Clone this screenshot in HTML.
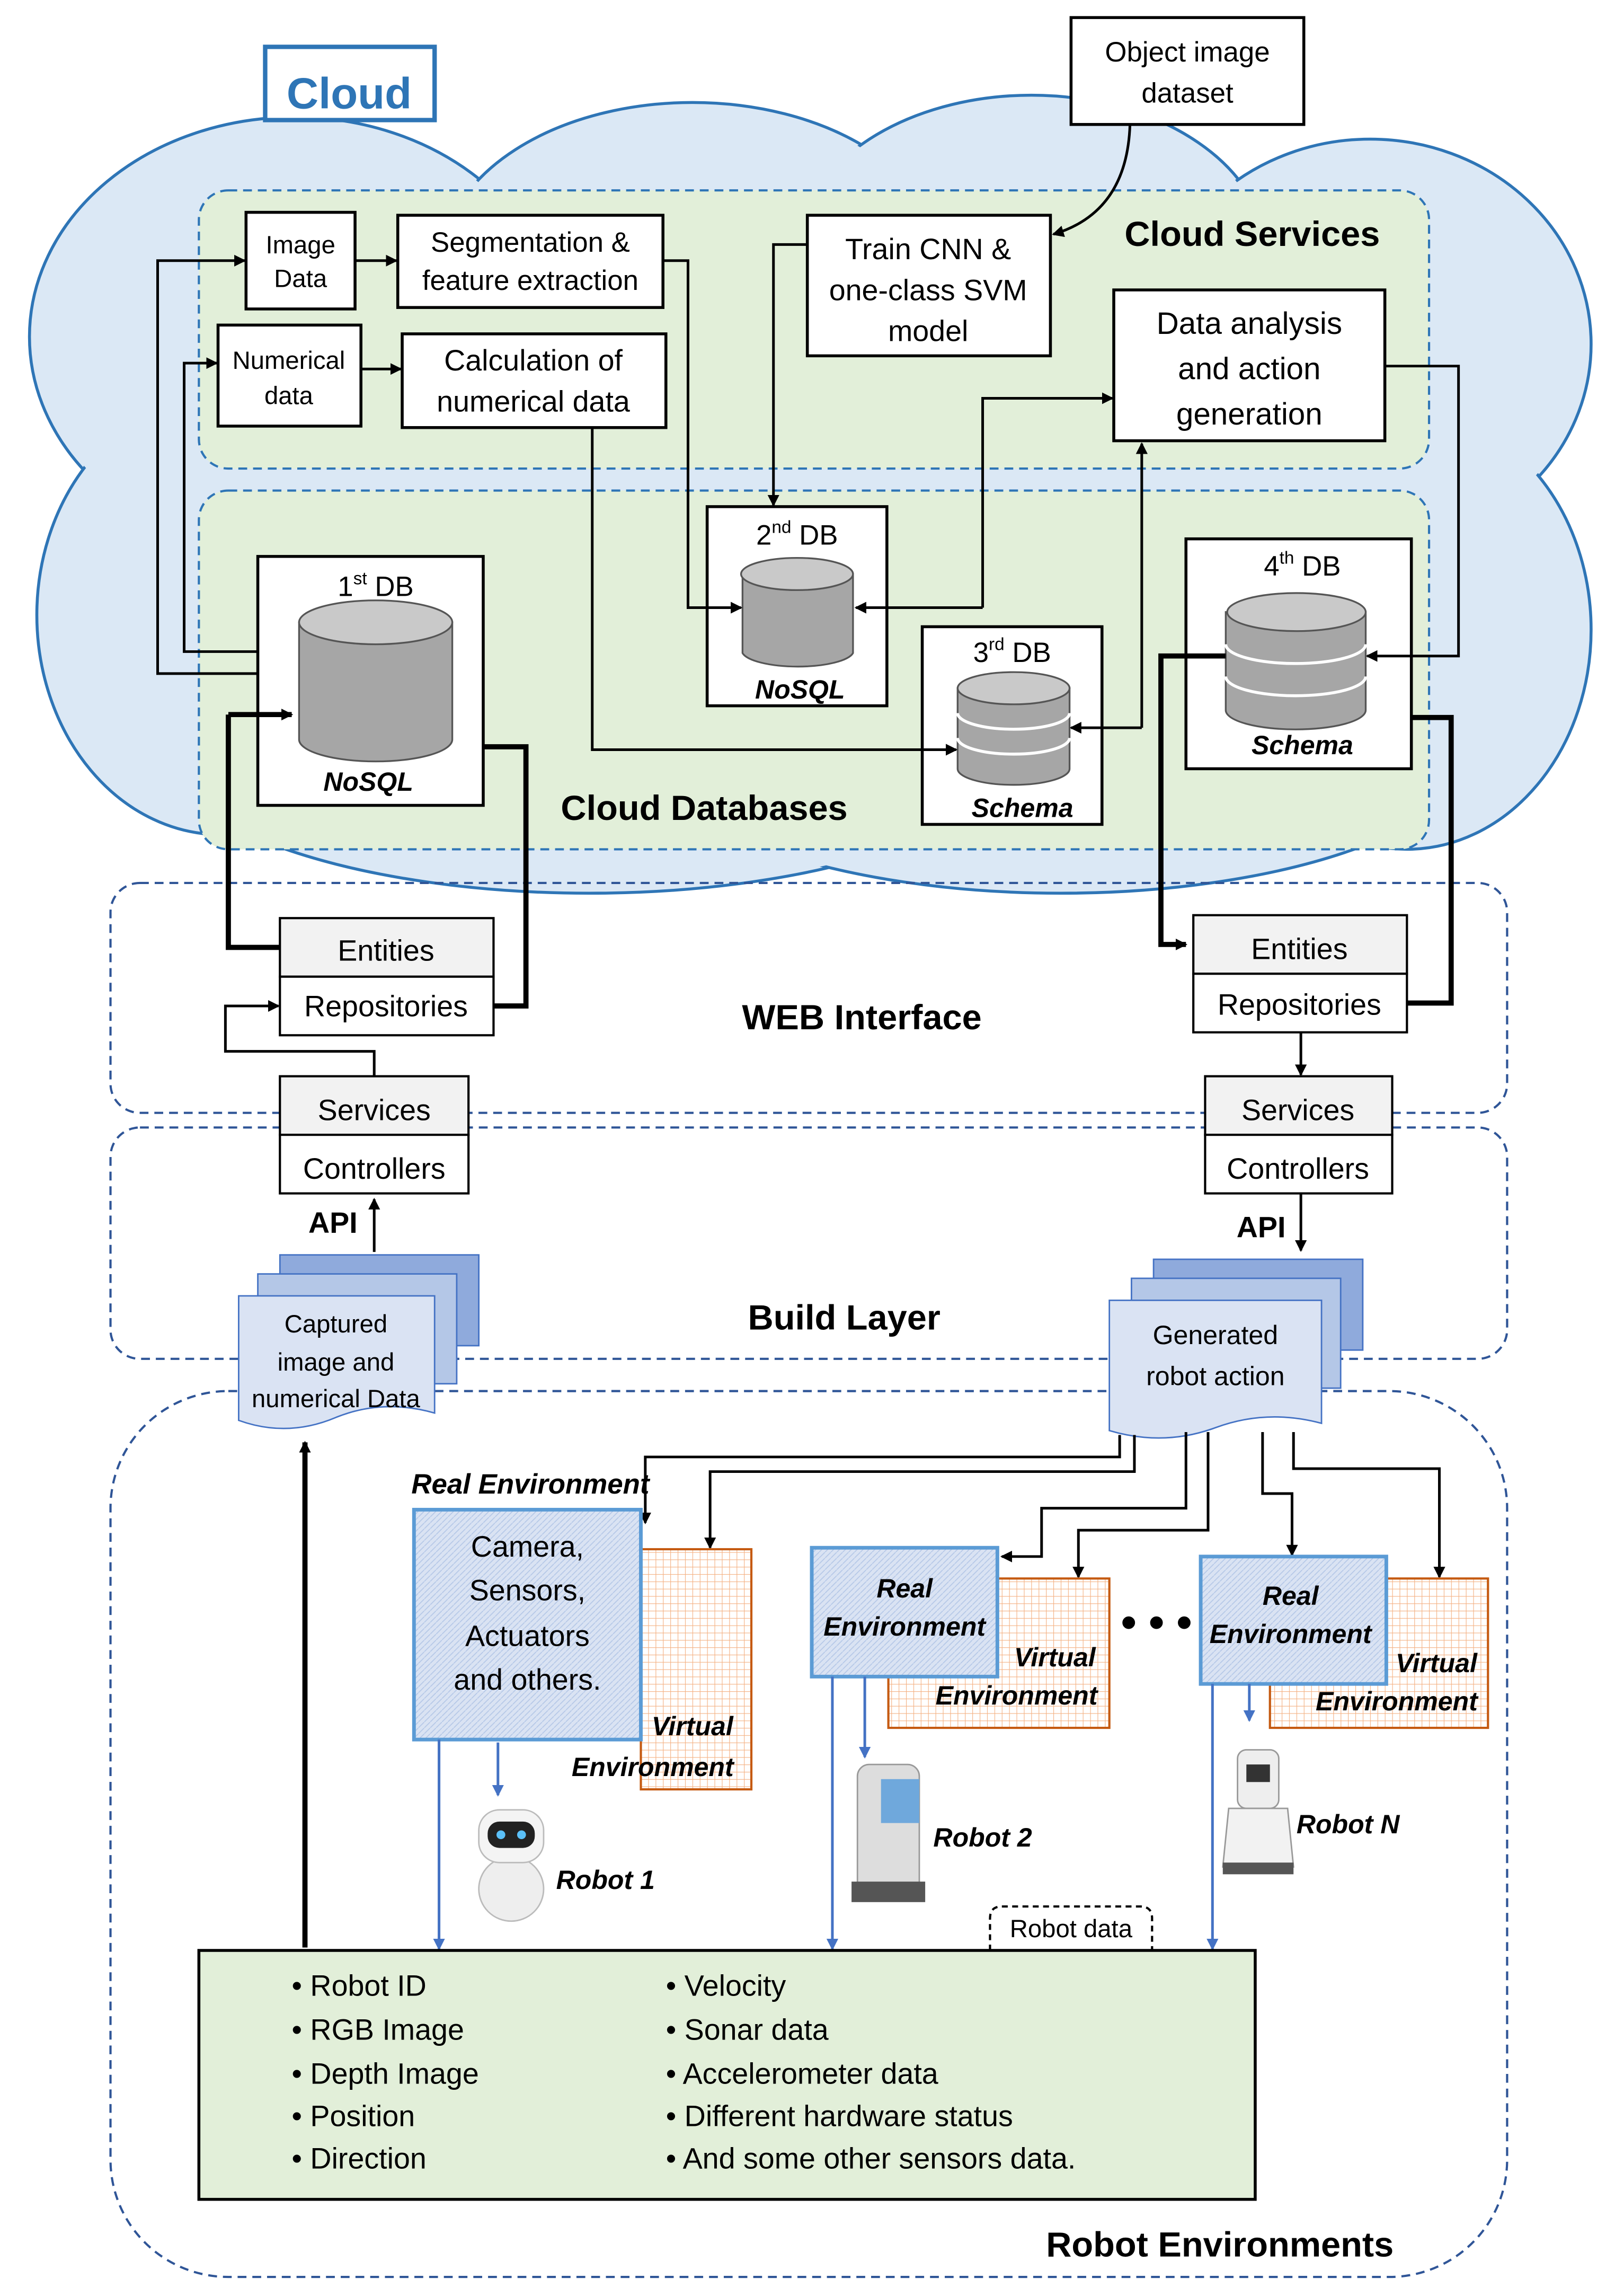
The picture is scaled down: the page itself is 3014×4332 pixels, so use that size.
<!DOCTYPE html>
<html><head><meta charset="utf-8"><style>html,body{margin:0;padding:0;background:#fff}svg{display:block}text{font-family:"Liberation Sans",sans-serif}</style></head><body>
<svg width="3014" height="4332" viewBox="0 0 1084 1568" preserveAspectRatio="none" xmlns="http://www.w3.org/2000/svg">
<defs>
<marker id="a" markerWidth="8" markerHeight="8" refX="7" refY="4" orient="auto" markerUnits="userSpaceOnUse"><path d="M0,0L8,4L0,8z" fill="#000"/></marker>
<marker id="b" markerWidth="8" markerHeight="8" refX="7" refY="4" orient="auto" markerUnits="userSpaceOnUse"><path d="M0,0L8,4L0,8z" fill="#4472c4"/></marker>
<pattern id="g" width="5" height="5" patternUnits="userSpaceOnUse"><rect width="5" height="5" fill="#fff"/><path d="M0,0H5M0,0V5" stroke="#f4b183" stroke-width="0.8"/></pattern>
<pattern id="h" width="4" height="4" patternUnits="userSpaceOnUse"><rect width="4" height="4" fill="#dae3f3"/><path d="M0,4L4,0" stroke="#b4c7e7" stroke-width="0.6"/></pattern>
</defs>
<!-- cloud -->
<g fill="#dbe8f5" stroke="#2e75b6" stroke-width="2">
<ellipse cx="200" cy="230" rx="180" ry="150"/><ellipse cx="470" cy="180" rx="170" ry="110"/><ellipse cx="700" cy="175" rx="160" ry="110"/><ellipse cx="930" cy="235" rx="150" ry="140"/><ellipse cx="150" cy="420" rx="125" ry="150"/><ellipse cx="955" cy="430" rx="125" ry="150"/><ellipse cx="400" cy="500" rx="300" ry="110"/><ellipse cx="720" cy="500" rx="290" ry="110"/>
</g>
<g fill="#dbe8f5"><ellipse cx="200" cy="230" rx="178" ry="148"/><ellipse cx="470" cy="180" rx="168" ry="108"/><ellipse cx="700" cy="175" rx="158" ry="108"/><ellipse cx="930" cy="235" rx="148" ry="138"/><ellipse cx="150" cy="420" rx="123" ry="148"/><ellipse cx="955" cy="430" rx="123" ry="148"/><ellipse cx="400" cy="500" rx="298" ry="108"/><ellipse cx="720" cy="500" rx="288" ry="108"/><ellipse cx="550" cy="380" rx="450" ry="200"/></g>
<rect x="180" y="32" width="115" height="50" fill="#fff" stroke="#2e75b6" stroke-width="3"/>
<text x="237" y="74" font-size="30" font-weight="bold" fill="#2e75b6" text-anchor="middle">Cloud</text>
<g fill="#e2efd9" stroke="#2e75b6" stroke-width="1.5" stroke-dasharray="6,4">
<rect x="135" y="130" width="835" height="190" rx="20"/><rect x="135" y="335" width="835" height="245" rx="20"/></g>
<g fill="none" stroke="#2f5597" stroke-width="1.5" stroke-dasharray="6,4">
<rect x="75" y="603" width="948" height="157" rx="20"/><rect x="75" y="770" width="948" height="158" rx="20"/><rect x="75" y="950" width="948" height="605" rx="80"/></g>
<!-- boxes -->
<g fill="#fff" stroke="#000" stroke-width="2">
<rect x="727" y="12" width="158" height="73"/><rect x="167" y="145" width="74" height="66"/><rect x="270" y="147" width="180" height="63"/><rect x="148" y="222" width="97" height="69"/><rect x="273" y="228" width="179" height="64"/><rect x="548" y="147" width="165" height="96"/><rect x="756" y="198" width="184" height="103"/>
<rect x="175" y="380" width="153" height="170"/><rect x="480" y="346" width="122" height="136"/><rect x="626" y="428" width="122" height="135"/><rect x="805" y="368" width="153" height="157"/>
</g>
<g font-size="19" text-anchor="middle" fill="#000">
<text x="806" y="42">Object image</text><text x="806" y="70">dataset</text>
<text x="204" y="173" font-size="17">Image</text><text x="204" y="196" font-size="17">Data</text>
<text x="360" y="172">Segmentation &amp;</text><text x="360" y="198">feature extraction</text>
<text x="196" y="252" font-size="17">Numerical</text><text x="196" y="276" font-size="17">data</text>
<text x="362" y="253" font-size="20">Calculation of</text><text x="362" y="281" font-size="20">numerical data</text>
<text x="630" y="177" font-size="20">Train CNN &amp;</text><text x="630" y="205" font-size="20">one-class SVM</text><text x="630" y="233" font-size="20">model</text>
<text x="848" y="228" font-size="21">Data analysis</text><text x="848" y="259" font-size="21">and action</text><text x="848" y="290" font-size="21">generation</text>
<text x="850" y="168" font-size="24" font-weight="bold">Cloud Services</text>
<text x="478" y="560" font-size="24" font-weight="bold">Cloud Databases</text>
<text x="255" y="407">1<tspan font-size="12" dy="-8">st</tspan><tspan dy="8"> DB</tspan></text>
<text x="541" y="372">2<tspan font-size="12" dy="-8">nd</tspan><tspan dy="8"> DB</tspan></text>
<text x="687" y="452">3<tspan font-size="12" dy="-8">rd</tspan><tspan dy="8"> DB</tspan></text>
<text x="884" y="393">4<tspan font-size="12" dy="-8">th</tspan><tspan dy="8"> DB</tspan></text>
<g font-weight="bold" font-style="italic" font-size="18"><text x="250" y="540">NoSQL</text><text x="543" y="477">NoSQL</text><text x="694" y="558">Schema</text><text x="884" y="515">Schema</text></g>
</g>
<!-- cylinders -->
<g stroke="#555" stroke-width="1.2">
<path d="M203,425 V505 A52,15 0 0 0 307,505 V425z" fill="#a6a6a6"/><ellipse cx="255" cy="425" rx="52" ry="15" fill="#c9c9c9"/>
<path d="M504,392 V446 A38,11 0 0 0 579,446 V392z" fill="#a6a6a6"/><ellipse cx="541" cy="392" rx="38" ry="11" fill="#c9c9c9"/>
<path d="M650,470 V525 A38,11 0 0 0 726,525 V470z" fill="#a6a6a6"/>
<path d="M650,487 A38,11 0 0 0 726,487 M650,504 A38,11 0 0 0 726,504" fill="none" stroke="#fff" stroke-width="2"/>
<ellipse cx="688" cy="470" rx="38" ry="11" fill="#c9c9c9"/>
<path d="M832,418 V485 A47,13 0 0 0 927,485 V418z" fill="#a6a6a6"/>
<path d="M832,440 A47,13 0 0 0 927,440 M832,462 A47,13 0 0 0 927,462" fill="none" stroke="#fff" stroke-width="2"/>
<ellipse cx="880" cy="418" rx="47" ry="13" fill="#c9c9c9"/>
</g>
<!-- web/build blocks -->
<g fill="#fff" stroke="#000" stroke-width="1.5">
<rect x="190" y="627" width="145" height="40" fill="#f2f2f2"/><rect x="190" y="667" width="145" height="40"/>
<rect x="810" y="625" width="145" height="40" fill="#f2f2f2"/><rect x="810" y="665" width="145" height="40"/>
<rect x="190" y="735" width="128" height="40" fill="#f2f2f2"/><rect x="190" y="775" width="128" height="40"/>
<rect x="818" y="735" width="127" height="40" fill="#f2f2f2"/><rect x="818" y="775" width="127" height="40"/>
</g>
<g font-size="20" text-anchor="middle">
<text x="262" y="656">Entities</text><text x="262" y="694">Repositories</text>
<text x="882" y="655">Entities</text><text x="882" y="693">Repositories</text>
<text x="254" y="765">Services</text><text x="254" y="805">Controllers</text>
<text x="881" y="765">Services</text><text x="881" y="805">Controllers</text>
<text x="585" y="703" font-size="24" font-weight="bold">WEB Interface</text>
<text x="573" y="908" font-size="24" font-weight="bold">Build Layer</text>
<text x="226" y="842" font-weight="bold">API</text><text x="856" y="845" font-weight="bold">API</text>
</g>
<!-- docs -->
<g stroke="#4472c4" stroke-width="1">
<rect x="190" y="857" width="135" height="62" fill="#8faadc"/><rect x="175" y="870" width="135" height="75" fill="#b4c7e7"/>
<path d="M162,885 H295 V965 Q260,955 228,968 Q195,982 162,970z" fill="#dae3f3"/>
<rect x="783" y="860" width="142" height="62" fill="#8faadc"/><rect x="768" y="873" width="142" height="75" fill="#b4c7e7"/>
<path d="M753,888 H897 V972 Q860,962 825,975 Q790,988 753,977z" fill="#dae3f3"/>
</g>
<g font-size="17" text-anchor="middle"><text x="228" y="910">Captured</text><text x="228" y="936">image and</text><text x="228" y="961">numerical Data</text>
<text x="825" y="918" font-size="18">Generated</text><text x="825" y="946" font-size="18">robot action</text></g>
<!-- connectors black -->
<g fill="none" stroke="#000" stroke-width="1.8" marker-end="url(#a)">
<path d="M767,85 Q765,145 715,160"/>
<path d="M175,460 H107 V178 H166"/><path d="M175,445 H125 V248 H147"/>
<path d="M241,178 H269"/><path d="M245,252 H272"/>
<path d="M450,178 H467 V415 H503"/>
<path d="M548,167 H525 V345"/>
<path d="M402,292 V512 H649"/>
<path d="M667,415 H581" /><path d="M667,415 V272 H755"/>
<path d="M775,497 H727"/><path d="M775,497 V303"/>
<path d="M940,250 H990 V448 H928"/>
<path d="M254,735 V718 H153 V687 H189"/>
<path d="M883,705 V734"/><path d="M883,815 V854"/><path d="M254,855 V819"/>
<path d="M760,980 V995 H438 V1040"/><path d="M770,980 V1005 H482 V1057"/>
<path d="M805,978 V1030 H707 V1063 H680"/><path d="M820,978 V1045 H732 V1077"/>
<path d="M857,978 V1020 H877 V1062"/><path d="M878,978 V1003 H977 V1077"/>
</g>
<g fill="none" stroke="#000" stroke-width="3.5">
<path d="M155,488 H198" marker-end="url(#a)"/><path d="M155,488 V647 H190"/>
<path d="M328,510 H357 V687 H335"/>
<path d="M832,448 H788 V645 H805" marker-end="url(#a)"/>
<path d="M958,490 H985 V685 H955"/>
<path d="M207,1330 V985" marker-end="url(#a)"/>
</g>
<!-- robot env -->
<text x="360" y="1020" font-size="19" font-weight="bold" font-style="italic" text-anchor="middle">Real Environment</text>
<rect x="435" y="1058" width="75" height="164" fill="url(#g)" stroke="#c55a11" stroke-width="1.5"/>
<rect x="281" y="1031" width="154" height="157" fill="url(#h)" stroke="#5b9bd5" stroke-width="2.5"/>
<rect x="603" y="1078" width="150" height="102" fill="url(#g)" stroke="#c55a11" stroke-width="1.5"/>
<rect x="551" y="1057" width="126" height="88" fill="url(#h)" stroke="#5b9bd5" stroke-width="2.5"/>
<rect x="862" y="1078" width="148" height="102" fill="url(#g)" stroke="#c55a11" stroke-width="1.5"/>
<rect x="815" y="1063" width="126" height="87" fill="url(#h)" stroke="#5b9bd5" stroke-width="2.5"/>
<g font-size="20" text-anchor="middle"><text x="358" y="1063">Camera,</text><text x="358" y="1093">Sensors,</text><text x="358" y="1124">Actuators</text><text x="358" y="1154">and others.</text></g>
<g font-size="18" font-weight="bold" font-style="italic" text-anchor="middle">
<text x="470" y="1185">Virtual</text><text x="443" y="1213">Environment</text>
<text x="614" y="1091">Real</text><text x="614" y="1117">Environment</text>
<text x="716" y="1138">Virtual</text><text x="690" y="1164">Environment</text>
<text x="876" y="1096">Real</text><text x="876" y="1122">Environment</text>
<text x="975" y="1142">Virtual</text><text x="948" y="1168">Environment</text>
<text x="411" y="1290">Robot 1</text><text x="667" y="1261">Robot 2</text><text x="915" y="1252">Robot N</text>
</g>
<text x="785" y="1118" font-size="30" font-weight="bold" text-anchor="middle">• • •</text>
<g fill="none" stroke="#4472c4" stroke-width="1.8" marker-end="url(#b)">
<path d="M298,1188 V1331"/><path d="M338,1190 V1226"/><path d="M565,1145 V1331"/><path d="M587,1145 V1200"/><path d="M823,1150 V1331"/><path d="M848,1150 V1175"/>
</g>
<!-- robots -->
<g>
<ellipse cx="347" cy="1290" rx="22" ry="22" fill="#eee" stroke="#bbb"/><rect x="325" y="1236" width="44" height="36" rx="14" fill="#f4f4f4" stroke="#bbb"/><rect x="331" y="1244" width="32" height="18" rx="8" fill="#222"/><circle cx="340" cy="1253" r="3" fill="#5bc0f8"/><circle cx="354" cy="1253" r="3" fill="#5bc0f8"/>
<rect x="582" y="1205" width="42" height="90" rx="8" fill="#ddd" stroke="#999"/><rect x="598" y="1215" width="26" height="30" fill="#6fa8dc"/><rect x="578" y="1285" width="50" height="14" fill="#555"/>
<rect x="840" y="1195" width="28" height="40" rx="6" fill="#eee" stroke="#999"/><rect x="846" y="1205" width="16" height="12" fill="#333"/><path d="M834,1235 H874 L878,1275 H830z" fill="#f2f2f2" stroke="#999"/><rect x="830" y="1272" width="48" height="8" fill="#555"/>
</g>
<!-- robot data -->
<path d="M672,1332 V1310 Q672,1302 680,1302 H774 Q782,1302 782,1310 V1332" fill="#fff" stroke="#000" stroke-width="1.5" stroke-dasharray="4,3"/>
<text x="727" y="1323" font-size="17" text-anchor="middle">Robot data</text>
<rect x="135" y="1332" width="717" height="170" fill="#e2efd9" stroke="#000" stroke-width="2"/>
<g font-size="20">
<text x="198" y="1363">• Robot ID</text><text x="198" y="1393">• RGB Image</text><text x="198" y="1423">• Depth Image</text><text x="198" y="1452">• Position</text><text x="198" y="1481">• Direction</text>
<text x="452" y="1363">• Velocity</text><text x="452" y="1393">• Sonar data</text><text x="452" y="1423">• Accelerometer data</text><text x="452" y="1452">• Different hardware status</text><text x="452" y="1481">• And some other sensors data.</text>
</g>
<text x="828" y="1541" font-size="24" font-weight="bold" text-anchor="middle">Robot Environments</text>
</svg>
</body></html>
